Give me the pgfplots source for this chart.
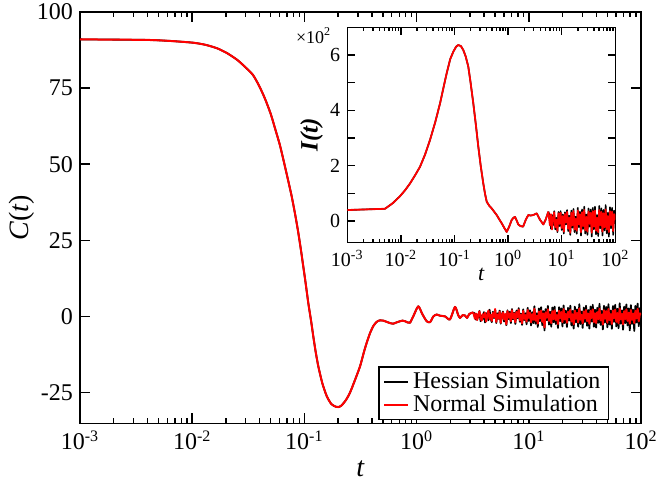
\documentclass[border=0pt]{standalone}
\usepackage{fontspec}
\setmainfont{Liberation Serif}
\usepackage{pgfplots}
\pgfplotsset{compat=1.18}
\usepackage{pgfplotstable}

% main C(t): smooth part (lt = log10 t)
\pgfplotstableread{
lt c
-3.0 91.0
-2.6 90.9
-2.376 90.8
-2.2 90.5
-1.99 89.9
-1.88 89.2
-1.78 88.1
-1.69 86.5
-1.60 84.3
-1.53 82.0
-1.458 79.3
-1.40 75.5
-1.35 71.4
-1.30 66.5
-1.262 61.8
-1.22 56.5
-1.188 51.6
-1.15 45.5
-1.113 39.4
-1.08 33.0
-1.054 27.4
-1.03 21.6
-1.010 16.4
-0.99 11.2
-0.965 4.4
-0.94 -1.6
-0.921 -6.5
-0.90 -11.5
-0.876 -16.4
-0.84 -22.0
-0.801 -26.2
-0.76 -28.8
-0.72 -29.7
-0.698 -29.8
-0.67 -29.3
-0.63 -27.5
-0.594 -25.1
-0.55 -21.0
-0.504 -16.4
-0.47 -11.8
-0.445 -8.7
-0.415 -5.5
-0.386 -3.2
-0.356 -1.8
-0.326 -1.3
-0.297 -1.4
-0.267 -1.8
-0.238 -2.2
-0.208 -2.4
-0.18 -2.0
-0.148 -1.6
-0.125 -1.4
-0.103 -1.6
-0.08 -2.0
-0.059 -2.1
-0.03 0.0
0.015 3.3
0.05 0.8
0.090 -1.6
0.12 -1.9
0.15 0.0
0.179 0.6
0.21 0.2
0.253 0.0
0.298 -1.0
0.342 3.1
0.37 0.5
0.387 -0.5
0.41 0.4
0.431 0.3
0.45 -0.5
0.47 0.8
0.505 1.3
}\Csmooth

\pgfplotstableread{
lt c
0.505 1.3
0.52 -0.8
0.53 0.9
0.54 -1.2
0.55 0.4
0.56 1.6
0.57 -0.5
0.58 -1.4
0.59 0.7
0.60 -0.3
0.61 1.2
0.62 -1.7
0.63 0.2
0.64 1.9
0.65 -0.9
0.66 0.5
0.67 -1.5
0.68 1.1
0.69 -0.2
0.70 2.4
0.71 -1.8
0.72 0.6
0.73 -0.7
0.74 1.5
0.75 -2.1
0.76 0.3
0.77 1.3
0.78 -1.0
0.79 0.8
0.80 -2.6
0.81 1.7
0.82 -0.4
0.83 1.0
0.84 -1.6
0.85 2.0
0.86 -0.6
0.87 0.9
0.88 -1.9
0.89 1.4
0.90 -0.3
0.91 2.2
0.92 -1.3
0.93 0.5
0.94 -2.3
0.95 1.8
0.96 -0.8
0.97 0.4
0.98 -1.7
0.99 2.1
1.00 -0.5
1.01 1.2
1.02 -2.0
1.03 0.7
1.04 -1.1
1.05 2.5
1.06 -1.4
1.07 0.2
1.08 -2.4
1.09 1.6
1.10 -0.7
1.11 1.9
1.12 -1.8
1.13 0.9
1.14 -3.6
1.15 1.3
1.16 -0.4
1.17 2.3
1.18 -1.5
1.19 0.6
1.20 -2.2
1.21 1.7
1.22 -0.9
1.23 2.0
1.24 -1.2
1.25 0.4
1.26 -2.5
1.27 1.8
1.28 -0.6
1.29 1.4
1.30 -1.9
1.31 2.4
1.32 -1.0
1.33 0.8
1.34 -2.1
1.35 1.5
1.36 -0.3
1.37 2.2
1.38 -1.7
1.39 0.7
1.40 -2.6
1.41 1.9
1.42 -0.8
1.43 1.1
1.44 -2.0
1.45 2.6
1.46 -1.1
1.47 0.5
1.48 -2.3
1.49 1.6
1.50 -0.7
1.51 2.1
1.52 -1.6
1.53 0.9
1.54 -2.4
1.55 1.8
1.56 -0.5
1.57 2.3
1.58 -1.9
1.59 1.0
1.60 -2.2
1.61 1.4
1.62 -0.9
1.63 2.5
1.64 -1.3
1.65 0.6
1.66 -2.7
1.67 2.0
1.68 -0.8
1.69 1.7
1.70 -2.1
1.71 2.4
1.72 -1.2
1.73 0.7
1.74 -2.5
1.75 1.9
1.76 -0.6
1.77 2.2
1.78 -1.8
1.79 1.1
1.80 -2.3
1.81 2.6
1.82 -1.0
1.83 0.8
1.84 -2.6
1.85 1.7
1.86 -0.9
1.87 2.3
1.88 -1.5
1.89 1.2
1.90 -2.4
1.91 2.1
1.92 -1.1
1.93 0.9
1.94 -2.2
1.95 1.8
1.96 -0.7
1.97 2.5
1.98 -1.6
1.99 1.0
2.00 0.5
}\Cred

\pgfplotstableread{
lt c
0.505 1.3
0.52 0.9
0.53 -1.1
0.54 0.6
0.55 -0.4
0.56 1.8
0.57 -1.6
0.58 0.3
0.59 -0.9
0.60 1.4
0.61 -2.0
0.62 0.8
0.63 1.1
0.64 -1.3
0.65 2.2
0.66 -0.7
0.67 -1.9
0.68 1.5
0.69 -0.5
0.70 2.0
0.71 -2.2
0.72 1.0
0.73 -0.8
0.74 1.9
0.75 -2.4
0.76 0.5
0.77 1.6
0.78 -1.7
0.79 0.4
0.80 -2.9
0.81 2.0
0.82 -0.9
0.83 1.5
0.84 -2.2
0.85 2.4
0.86 -1.0
0.87 1.2
0.88 -2.5
0.89 1.9
0.90 -0.6
0.91 2.7
0.92 -1.8
0.93 0.9
0.94 -2.8
0.95 2.3
0.96 -1.2
0.97 1.0
0.98 -2.6
0.99 2.8
1.00 -1.5
1.01 2.0
1.02 -3.0
1.03 1.4
1.04 -2.2
1.05 3.3
1.06 -2.4
1.07 1.0
1.08 -3.5
1.09 2.6
1.10 -1.6
1.11 3.0
1.12 -2.9
1.13 1.7
1.14 -4.6
1.15 2.4
1.16 -1.3
1.17 3.4
1.18 -2.7
1.19 1.5
1.20 -3.4
1.21 2.9
1.22 -1.9
1.23 3.2
1.24 -2.5
1.25 1.3
1.26 -3.8
1.27 3.0
1.28 -1.6
1.29 2.6
1.30 -3.3
1.31 3.6
1.32 -2.2
1.33 1.9
1.34 -3.5
1.35 2.8
1.36 -1.4
1.37 3.5
1.38 -3.0
1.39 1.8
1.40 -4.0
1.41 3.2
1.42 -2.0
1.43 2.3
1.44 -3.4
1.45 4.0
1.46 -2.5
1.47 1.6
1.48 -3.8
1.49 2.9
1.50 -1.9
1.51 3.5
1.52 -3.1
1.53 2.1
1.54 -4.0
1.55 3.2
1.56 -1.7
1.57 3.8
1.58 -3.4
1.59 2.2
1.60 -3.7
1.61 2.8
1.62 -2.1
1.63 4.1
1.64 -2.8
1.65 1.8
1.66 -4.3
1.67 3.5
1.68 -2.0
1.69 3.1
1.70 -3.6
1.71 4.0
1.72 -2.7
1.73 1.9
1.74 -4.1
1.75 3.4
1.76 -1.8
1.77 3.8
1.78 -3.3
1.79 2.5
1.80 -3.9
1.81 4.3
1.82 -2.4
1.83 2.0
1.84 -4.4
1.85 3.2
1.86 -2.2
1.87 3.9
1.88 -3.0
1.89 2.6
1.90 -4.6
1.91 3.7
1.92 -2.5
1.93 2.2
1.94 -4.8
1.95 3.4
1.96 -2.0
1.97 4.2
1.98 -3.2
1.99 2.7
2.00 -1.0
}\Cblack

% inset I(t) in units of 10^2
\pgfplotstableread{
lt i
-3.0 0.40
-2.297 0.445
-2.15 0.65
-2.017 0.90
-1.92 1.12
-1.830 1.36
-1.74 1.64
-1.644 1.96
-1.55 2.40
-1.457 2.93
-1.36 3.57
-1.270 4.25
-1.20 4.87
-1.146 5.34
-1.08 5.85
-1.022 6.12
-0.97 6.30
-0.929 6.36
-0.88 6.32
-0.836 6.18
-0.79 5.94
-0.743 5.58
-0.70 5.00
-0.649 4.25
-0.60 3.45
-0.556 2.69
-0.51 1.98
-0.463 1.36
-0.43 0.98
-0.399 0.70
-0.35 0.55
-0.306 0.46
-0.26 0.34
-0.213 0.22
-0.17 0.08
-0.119 -0.08
-0.07 -0.25
-0.026 -0.39
0.02 -0.20
0.067 0.04
0.10 0.12
0.129 0.15
0.16 0.02
0.19 -0.12
0.23 -0.18
0.28 -0.20
0.33 0.05
0.377 0.22
0.42 0.20
0.47 0.22
0.533 0.28
0.595 0.05
0.657 -0.12
0.70 0.05
0.75 0.34
}\Ismooth

\pgfplotstableread{
lt i
0.75 0.34
0.78 -0.15
0.80 0.25
0.82 -0.30
0.84 0.10
0.86 0.32
0.88 -0.22
0.90 0.05
0.92 -0.35
0.94 0.28
0.96 -0.10
0.98 0.30
1.00 -0.25
1.02 0.18
1.04 -0.38
1.06 0.26
1.08 -0.05
1.10 0.33
1.12 -0.28
1.14 0.12
1.16 -0.42
1.18 0.30
1.20 -0.15
1.22 0.36
1.24 -0.30
1.26 0.08
1.28 -0.35
1.30 0.38
1.32 -0.12
1.34 0.25
1.36 -0.40
1.38 0.32
1.40 -0.18
1.42 0.40
1.44 -0.33
1.46 0.15
1.48 -0.38
1.50 0.35
1.52 -0.10
1.54 0.30
1.56 -0.42
1.58 0.36
1.60 -0.20
1.62 0.38
1.64 -0.35
1.66 0.12
1.68 -0.40
1.70 0.40
1.72 -0.15
1.74 0.33
1.76 -0.38
1.78 0.28
1.80 -0.22
1.82 0.42
1.84 -0.30
1.86 0.18
1.88 -0.40
1.90 0.36
1.92 -0.14
1.94 0.34
1.96 -0.36
1.98 0.25
2.00 0.05
}\Ired

\pgfplotstableread{
lt i
0.75 0.34
0.78 0.18
0.80 -0.28
0.82 0.22
0.84 -0.15
0.86 0.36
0.88 -0.30
0.90 0.12
0.92 -0.40
0.94 0.33
0.96 -0.18
0.98 0.36
1.00 -0.32
1.02 0.24
1.04 -0.45
1.06 0.32
1.08 -0.12
1.10 0.40
1.12 -0.36
1.14 0.20
1.16 -0.50
1.18 0.38
1.20 -0.24
1.22 0.44
1.24 -0.40
1.26 0.16
1.28 -0.46
1.30 0.48
1.32 -0.22
1.34 0.34
1.36 -0.52
1.38 0.42
1.40 -0.28
1.42 0.52
1.44 -0.45
1.46 0.24
1.48 -0.50
1.50 0.46
1.52 -0.20
1.54 0.42
1.56 -0.56
1.58 0.48
1.60 -0.30
1.62 0.52
1.64 -0.48
1.66 0.22
1.68 -0.54
1.70 0.55
1.72 -0.26
1.74 0.46
1.76 -0.52
1.78 0.40
1.80 -0.34
1.82 0.58
1.84 -0.44
1.86 0.30
1.88 -0.56
1.90 0.50
1.92 -0.26
1.94 0.48
1.96 -0.50
1.98 0.38
2.00 -0.10
}\Iblack

\begin{document}
\begin{tikzpicture}
\begin{axis}[
  scale only axis,
  xmode=log, xmin=1e-3, xmax=1e2,
  xtick={1e-3,1e-2,1e-1,1,10,100},
  xticklabels={10\textsuperscript{-3},10\textsuperscript{-2},10\textsuperscript{-1},10\textsuperscript{0},10\textsuperscript{1},10\textsuperscript{2}},
  minor xtick={0.002,0.003,0.004,0.005,0.006,0.007,0.008,0.009,
               0.02,0.03,0.04,0.05,0.06,0.07,0.08,0.09,
               0.2,0.3,0.4,0.5,0.6,0.7,0.8,0.9,
               2,3,4,5,6,7,8,9,20,30,40,50,60,70,80,90},
  tick align=inside,
  tick style={line width=0.7pt, black},
  axis line style={line width=0.75pt},
  /pgf/number format/assume math mode=true,
  name=main, at={(0,0)}, anchor=south west,
  width=280.5pt, height=205.75pt,
  ymin=-35.2, ymax=100,
  ytick={-25,0,25,50,75,100},
  major tick length=5pt, minor tick length=2.5pt,
  ticklabel style={font=\fontsize{12}{12}\selectfont},
  xlabel={\textit{t}},
  xlabel style={font=\fontsize{14}{14}\selectfont, at={(axis description cs:0.5,-0.1094)}, anchor=center},
  ylabel={\textit{C}(\textit{t})},
  ylabel style={font=\fontsize{14}{14}\selectfont, at={(axis description cs:-0.1034,0.5)}, anchor=center},
  legend style={at={(0.943,0.0085)}, anchor=south east, draw=black, line width=0.6pt,
    font=\fontsize{12}{11}\selectfont, inner xsep=2pt, inner ysep=0.5pt, row sep=-2.5pt,
    cells={anchor=west}},
  legend image code/.code={\draw[line width=0.6pt] (0pt,0pt) -- (7pt,0pt); \path (0pt,0pt) -- (12pt,0pt);},
]
\addplot[black, line width=0.9pt, line join=round, smooth, tension=0.4, forget plot] table[x expr={10^(\thisrow{lt})}, y=c] {\Csmooth};
\addplot[black, line width=0.9pt, line join=round] table[x expr={10^(\thisrow{lt})}, y=c] {\Cblack};
\addlegendentry{Hessian Simulation}
\addplot[red, line width=1pt, line join=round, smooth, tension=0.4, forget plot] table[x expr={10^(\thisrow{lt})}, y=c] {\Csmooth};
\addplot[red, line width=1pt, line join=round] table[x expr={10^(\thisrow{lt})}, y=c] {\Cred};
\addlegendentry{Normal Simulation}
\end{axis}

\begin{axis}[
  scale only axis,
  xmode=log, xmin=1e-3, xmax=1e2,
  xtick={1e-3,1e-2,1e-1,1,10,100},
  xticklabels={10\textsuperscript{-3},10\textsuperscript{-2},10\textsuperscript{-1},10\textsuperscript{0},10\textsuperscript{1},10\textsuperscript{2}},
  minor xtick={0.002,0.003,0.004,0.005,0.006,0.007,0.008,0.009,
               0.02,0.03,0.04,0.05,0.06,0.07,0.08,0.09,
               0.2,0.3,0.4,0.5,0.6,0.7,0.8,0.9,
               2,3,4,5,6,7,8,9,20,30,40,50,60,70,80,90},
  tick align=inside,
  tick style={line width=0.7pt, black},
  axis line style={line width=0.75pt},
  /pgf/number format/assume math mode=true,
  clip mode=individual,
  name=inset, at={(133.65pt,90.4pt)}, anchor=south west,
  width=134pt, height=107.7pt,
  axis background/.style={fill=white},
  ymin=-0.78, ymax=7.0,
  ytick={0,1,2,3,4,5,6}, yticklabels={0,,2,,4,,6},
  major tick length=3.8pt, minor tick length=2pt,
  ticklabel style={font=\fontsize{10}{10}\selectfont},
  xlabel={\textit{t}},
  xlabel style={font=\fontsize{11}{11}\selectfont, at={(axis description cs:0.5,-0.1486)}, anchor=center},
  ylabel={\textbf{\textit{I(t)}}},
  ylabel style={font=\fontsize{12.5}{12.5}\selectfont, at={(axis description cs:-0.133,0.5)}, anchor=center},
]
\addplot[black, line width=0.8pt, line join=round, forget plot] table[x expr={10^(\thisrow{lt})}, y=i] {\Ismooth};
\addplot[black, line width=0.8pt, line join=round] table[x expr={10^(\thisrow{lt})}, y=i] {\Iblack};
\addplot[red, line width=0.9pt, line join=round, forget plot] table[x expr={10^(\thisrow{lt})}, y=i] {\Ismooth};
\addplot[red, line width=0.9pt, line join=round] table[x expr={10^(\thisrow{lt})}, y=i] {\Ired};
\node[anchor=east, font=\fontsize{9}{9}\selectfont, xshift=-4.5pt, yshift=-4pt] at (rel axis cs:0,1) {×10\textsuperscript{2}};
\end{axis}

\pgfresetboundingbox
\path (-40pt,-28.25pt) rectangle (288.5pt,211.75pt);
\end{tikzpicture}
\end{document}
